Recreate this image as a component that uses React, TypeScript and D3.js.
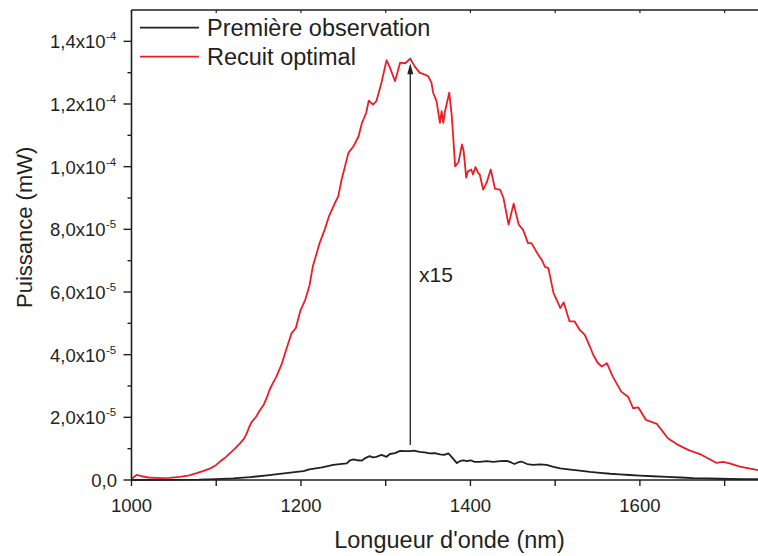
import React from "react";
import * as d3 from "d3";

// Wavelengths (nm) and powers (×1e-6 mW)
const redNm = [1000,1002,1006,1012,1020,1033,1045,1057,1068,1077,1085,1093,1099,1104,1110,1116,1122,1128,1133,1136,1139,1142,1147,1151,1156,1160,1163,1167,1171,1177,1183,1189,1194,1199,1205,1210,1214,1222,1228,1233,1240,1244,1248,1256,1262,1268,1272,1277,1280,1285,1289,1295,1301,1305,1311,1317,1323,1329,1334,1340,1346,1350,1354,1356,1360,1364,1366,1368,1370,1375,1378,1382,1386,1390,1392,1395,1397,1401,1403,1406,1409,1411,1415,1419,1424,1429,1435,1439,1445,1451,1457,1462,1468,1472,1480,1484,1488,1492,1498,1506,1510,1517,1523,1529,1535,1541,1545,1550,1555,1561,1568,1578,1586,1592,1598,1607,1620,1633,1645,1657,1673,1690,1698,1706,1718,1738,1750];
const redVal = [0,0.8,1.6,1.2,0.8,0.6,0.7,1.0,1.5,2.2,2.9,3.7,4.6,5.8,7.0,8.5,10.0,11.7,13.3,14.9,17.0,18.6,20.2,22.0,24.0,26.5,28.8,31.0,33.0,36.8,42.0,46.9,48.5,53.8,57.5,62.0,68.2,75.6,79.9,84.1,88.4,90.5,95.9,104.4,106.5,109.7,114.0,117.2,121.1,119.8,120.9,126.8,134.0,131.6,127.3,133.2,133.0,134.5,132.1,130.0,129.4,128.9,126.8,123.6,120.9,114.0,117.7,114.0,117.7,123.6,116.1,100.1,101.5,107.1,105.0,96.5,98.5,99.1,97.5,99.9,98.0,97.5,92.7,94.8,99.1,92.9,92.7,90.0,81.5,88.2,81.5,79.9,75.6,75.6,71.9,70.3,68.0,67.6,59.7,54.9,56.7,50.6,50.6,47.9,46.3,42.6,39.9,37.5,36.2,37.3,33.0,28.2,26.6,22.9,23.2,19.2,17.9,13.3,11.2,9.6,8.0,5.5,5.8,5.3,4.3,3.2,2.8];

const blackNm = [1000,1040,1080,1100,1120,1140,1160,1180,1195,1203,1210,1225,1238,1254,1258,1262,1267,1272,1276,1281,1285,1289,1295,1301,1305,1311,1317,1323,1329,1333,1340,1346,1352,1358,1364,1369,1374,1379,1384,1388,1392,1396,1400,1405,1411,1419,1427,1435,1443,1448,1452,1456,1460,1467,1474,1482,1490,1498,1506,1518,1529,1541,1553,1565,1576,1588,1600,1615,1632,1648,1663,1680,1694,1720,1750];
const blackVal = [0,0.05,0.1,0.25,0.5,0.9,1.5,2.1,2.6,2.8,3.4,4.0,4.8,5.3,6.3,6.6,6.3,6.2,7.0,7.6,7.2,7.4,8.0,7.4,8.3,8.6,9.3,9.2,9.2,9.4,9.0,8.8,8.5,8.6,8.2,8.0,8.5,7.0,5.4,6.1,6.3,6.0,6.3,5.8,5.8,6.0,5.8,6.0,6.1,5.6,5.1,5.6,5.9,5.1,4.8,5.0,4.8,4.2,3.7,3.3,3.0,2.6,2.3,2.0,1.8,1.6,1.4,1.2,1.0,0.8,0.6,0.5,0.4,0.3,0.3];

const seriesNames = ["Première observation", "Recuit optimal"];
const seriesColors = ["#231f20", "#ee1c24"];

const xTicks = [1000, 1200, 1400, 1600];
const xMinorTicks = [1100, 1300, 1500, 1700];
const yTicks = [0, 2e-5, 4e-5, 6e-5, 8e-5, 1e-4, 1.2e-4, 1.4e-4];
const yTickMant = ["0,0", "2,0x10", "4,0x10", "6,0x10", "8,0x10", "1,0x10", "1,2x10", "1,4x10"];
const yTickExp = ["", "-5", "-5", "-5", "-5", "-4", "-4", "-4"];
const yMinorTicks = [1e-5, 3e-5, 5e-5, 7e-5, 9e-5, 1.1e-4, 1.3e-4];

const arrowNm = 1329;
const arrowFrom = 1.12e-5;
const arrowTo = 1.33e-4;
const arrowLabel = "x15";

const W = 758, H = 556;
const L = 131.5, R = 767, T = 10, B = 480;
const FONT = "'Liberation Sans', Arial, Helvetica, sans-serif";
const TXT = "#231f20";

export default function App() {
  const x = d3.scaleLinear().domain([1000, 1750]).range([L, R]);
  const y = d3.scaleLinear().domain([0, 1.5e-4]).range([B, T]);
  const line = d3.line<[number, number]>().x(d => x(d[0])).y(d => y(d[1]));
  const red = redNm.map((n, i) => [n, redVal[i] * 1e-6] as [number, number]);
  const black = blackNm.map((n, i) => [n, blackVal[i] * 1e-6] as [number, number]);
  const ax = x(arrowNm);

  return (
    <svg width={W} height={H} style={{ position: "absolute", left: 0, top: 0, background: "#fff" }} fontFamily={FONT}>
      <defs>
        <clipPath id="clip"><rect x={L} y={T} width={R - L} height={B - T + 2} /></clipPath>
      </defs>
      <g clipPath="url(#clip)">
        <path d={line(black) || ""} fill="none" stroke={seriesColors[0]} strokeWidth={1.8} strokeLinejoin="round" />
        <path d={line(red) || ""} fill="none" stroke={seriesColors[1]} strokeWidth={1.8} strokeLinejoin="round" />
      </g>
      {/* arrow */}
      <line x1={ax} x2={ax} y1={y(arrowFrom)} y2={y(arrowTo) + 8} stroke="#231f20" strokeWidth={1.3} />
      <path d={`M${ax},${y(arrowTo)} L${ax - 3},${y(arrowTo) + 11} L${ax + 3},${y(arrowTo) + 11} Z`} fill="#231f20" />
      <text x={419} y={282} fontSize={21} fill={TXT}>{arrowLabel}</text>

      {/* frame */}
      <line x1={L} x2={R} y1={T} y2={T} stroke={TXT} strokeWidth={1.6} />
      <line x1={L} x2={R} y1={B} y2={B} stroke={TXT} strokeWidth={1.6} />
      <line x1={L} x2={L} y1={T} y2={B} stroke={TXT} strokeWidth={1.6} />
      {/* x ticks */}
      {xTicks.concat(xMinorTicks).map(t => (
        <g key={"xt" + t}>
          <line x1={x(t)} x2={x(t)} y1={B} y2={B + 6} stroke={TXT} strokeWidth={1.4} />
          <line x1={x(t)} x2={x(t)} y1={T} y2={T + 3} stroke={TXT} strokeWidth={1.2} />
        </g>
      ))}
      {xTicks.map(t => (
        <text key={"xl" + t} x={x(t)} y={511.5} fontSize={18.5} textAnchor="middle" fill={TXT}>{t}</text>
      ))}
      {/* y ticks */}
      {yTicks.map((t, i) => (
        <g key={"yt" + t}>
          <line x1={L - 8} x2={L} y1={y(t)} y2={y(t)} stroke={TXT} strokeWidth={1.4} />
          {yTickExp[i] ? (
            <>
              <text x={105.5} y={y(t) + 7} fontSize={18.5} textAnchor="end" fill={TXT}>{yTickMant[i]}</text>
              <text x={106} y={y(t) - 1} fontSize={11.5} textAnchor="start" fill={TXT}>{yTickExp[i]}</text>
            </>
          ) : (
            <text x={117} y={y(t) + 7} fontSize={18.5} textAnchor="end" fill={TXT}>{yTickMant[i]}</text>
          )}
        </g>
      ))}
      {yMinorTicks.map(t => (
        <line key={"ym" + t} x1={L - 4} x2={L} y1={y(t)} y2={y(t)} stroke={TXT} strokeWidth={1.4} />
      ))}
      {/* axis titles */}
      <text x={449.5} y={548} fontSize={23.5} textAnchor="middle" fill={TXT}>Longueur d'onde (nm)</text>
      <text transform={`translate(32,308) rotate(-90)`} fontSize={22} textAnchor="start" fill={TXT}>Puissance (mW)</text>

      {/* legend */}
      {seriesNames.map((s, i) => (
        <g key={s}>
          <line x1={140} x2={199} y1={27.7 + i * 29} y2={27.7 + i * 29} stroke={seriesColors[i]} strokeWidth={1.8} />
          <text x={207} y={36 + i * 29} fontSize={23.5} fill={TXT}>{s}</text>
        </g>
      ))}
    </svg>
  );
}
